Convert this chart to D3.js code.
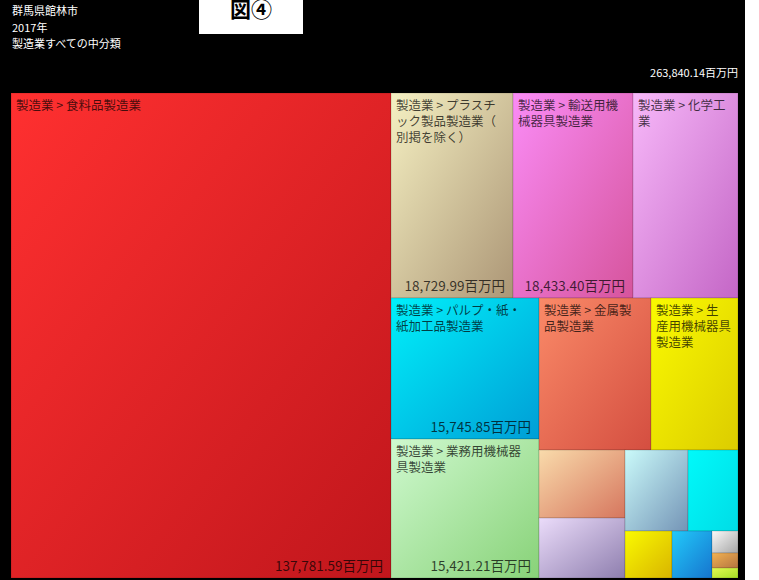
<!DOCTYPE html>
<html>
<head>
<meta charset="utf-8">
<script src="https://cdn.jsdelivr.net/npm/d3@7"></script>
<style>
  body { margin: 0; background: #fff; }
  text { font-family: "Noto Sans CJK JP", "Noto Sans", sans-serif; }
</style>
</head>
<body>
<div id="chart"></div>
<script>
// header texts
const headerLines = ["群馬県館林市", "2017年", "製造業すべての中分類"];
const figureLabel = "図④";
const unit = "百万円";
const totalValue = 263840.14;

// cell labels ("|" marks the line breaks seen in the picture)
const labels = [
  "製造業 > 食料品製造業",
  "製造業 > プラスチ|ック製品製造業（|別掲を除く）",
  "製造業 > 輸送用機|械器具製造業",
  "製造業 > 化学工|業",
  "製造業 > パルプ・紙・|紙加工品製造業",
  "製造業 > 業務用機械器|具製造業",
  "製造業 > 金属製|品製造業",
  "製造業 > 生|産用機械器具|製造業",
  "製造業 > 電気機械器具製造業",
  "製造業 > 飲料・たばこ・飼料製造業",
  "製造業 > 窯業・土石製品製造業",
  "製造業 > はん用機械器具製造業",
  "製造業 > 印刷・同関連業",
  "製造業 > 非鉄金属製造業",
  "製造業 > 鉄鋼業",
  "製造業 > ゴム製品製造業",
  "製造業 > その他の製造業"
];
// 百万円 (first five and total are printed, the rest)
const values = [
  137781.59, 18729.99, 18433.40, 16128.00, 15745.85, 15421.21,
  12633.00, 9943.00, 4330.00, 3860.00, 3840.00, 2990.00,
  1672.00, 1418.00, 424.00, 303.00, 187.10
];

// gradient colours, top-left -> bottom-right
const palette = [
  ["#ff3030", "#c0161c"], ["#f5f0c2", "#ac9676"], ["#fa8cf6", "#d6549c"],
  ["#f7b8f9", "#c466c6"], ["#00f0fa", "#009ed6"], ["#cff9cf", "#88d278"],
  ["#fa8a68", "#d44e40"], ["#fafa00", "#dccc00"], ["#f9dbab", "#d6765e"],
  ["#ebdcfa", "#8e7eae"], ["#cafafa", "#7494b6"], ["#00fafa", "#00dce6"],
  ["#fafa00", "#d8b400"], ["#22cafa", "#1674ce"], ["#fafafa", "#a6a6a6"],
  ["#f2b252", "#b47440"], ["#e2fa52", "#a6de26"]
];

const width = 759, height = 580;
const margin = {top: 93, right: 21, bottom: 2, left: 11};
const innerW = width - margin.left - margin.right;
const innerH = height - margin.top - margin.bottom;
const fmt = d3.format(",.2f");

const svg = d3.select("#chart")
  .append("svg")
  .attr("width", width)
  .attr("height", height);

svg.append("rect")
  .attr("width", 745)
  .attr("height", height)
  .attr("fill", "#000");

// title lines
svg.selectAll(".header")
  .data(headerLines)
  .enter()
  .append("text")
  .attr("class", "header")
  .attr("x", 12)
  .attr("y", (d, i) => 15 + i * 16.5)
  .attr("fill", "#fff")
  .attr("font-size", "11px")
  .text(d => d);

svg.append("rect")
  .attr("x", 199)
  .attr("y", 0)
  .attr("width", 104)
  .attr("height", 34)
  .attr("fill", "#fff");

svg.append("text")
  .attr("x", 251)
  .attr("y", 17)
  .attr("text-anchor", "middle")
  .attr("font-size", "21px")
  .attr("font-weight", "bold")
  .attr("fill", "#000")
  .text(figureLabel);

svg.append("text")
  .attr("x", margin.left + innerW)
  .attr("y", 77)
  .attr("text-anchor", "end")
  .attr("fill", "#fff")
  .attr("font-size", "11px")
  .text(fmt(totalValue) + unit);

const items = labels.map((l, i) => ({
  name: l.replace(/\|/g, ""),
  lines: l.split("|"),
  value: values[i],
  idx: i
}));

const root = d3.hierarchy({children: items})
  .sum(d => d.value || 0)
  .sort((a, b) => b.value - a.value);

d3.treemap()
  .size([innerW, innerH])
  .round(true)(root);

const defs = svg.append("defs");
palette.forEach((p, i) => {
  const g = defs.append("linearGradient")
    .attr("id", `grad-${i}`)
    .attr("x1", "0").attr("y1", "0")
    .attr("x2", "1").attr("y2", "1");
  g.append("stop").attr("offset", "0%").attr("stop-color", p[0]);
  g.append("stop").attr("offset", "100%").attr("stop-color", p[1]);
});

const chart = svg.append("g")
  .attr("transform", `translate(${margin.left}, ${margin.top})`);

const cell = chart.selectAll(".cell")
  .data(root.leaves())
  .enter()
  .append("g")
  .attr("class", "cell")
  .attr("transform", d => `translate(${d.x0}, ${d.y0})`);

cell.append("rect")
  .attr("width", d => d.x1 - d.x0)
  .attr("height", d => d.y1 - d.y0)
  .attr("fill", d => `url(#grad-${d.data.idx})`)
  .attr("stroke", "rgba(0,0,0,0.15)")
  .attr("stroke-width", 1);

// names only where the cell is big enough, one text per line
cell.filter(d => (d.x1 - d.x0) >= 80 && (d.y1 - d.y0) >= 100)
  .each(function(d) {
    const g = d3.select(this);
    d.data.lines.forEach((line, i) => {
      g.append("text")
        .attr("class", "cell-label")
        .attr("x", 5)
        .attr("y", 17 + i * 16)
        .attr("font-size", "12.5px")
        .attr("fill", "#000")
        .attr("fill-opacity", 0.72)
        .text(line);
    });
  });

// values bottom right, dropped when they do not fit
cell.filter(d => (d.y1 - d.y0) >= 100)
  .append("text")
  .attr("class", "cell-value")
  .attr("x", d => d.x1 - d.x0 - 8)
  .attr("y", d => d.y1 - d.y0 - 7)
  .attr("text-anchor", "end")
  .attr("font-size", "13.5px")
  .attr("fill", "#000")
  .attr("fill-opacity", 0.72)
  .text(d => fmt(d.value) + unit)
  .each(function(d) {
    if (this.getComputedTextLength() + 14 > d.x1 - d.x0) d3.select(this).remove();
  });
</script>
</body>
</html>
